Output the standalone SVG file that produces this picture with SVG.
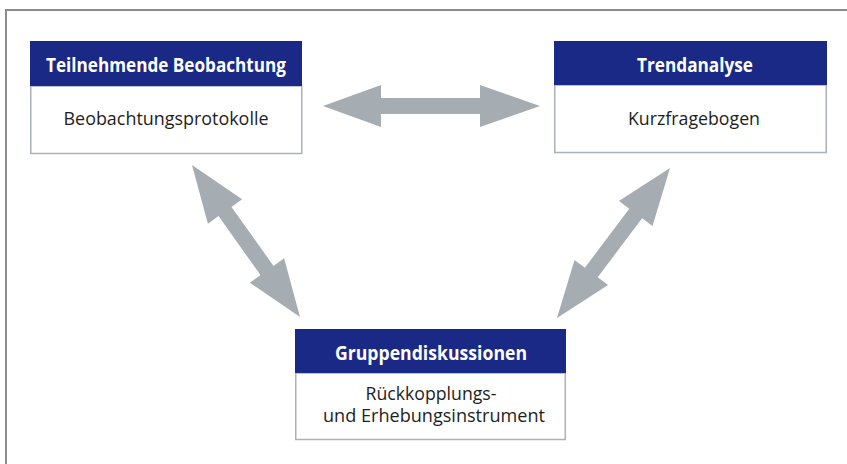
<svg xmlns="http://www.w3.org/2000/svg" width="847" height="464" viewBox="0 0 847 464">
  <style>
    .frame { stroke: #8c8c8c; stroke-width: 2; fill: none; }
    .head { fill: #1a2985; }
    .body { fill: #ffffff; stroke: #aab1b8; stroke-width: 1.5; }
    .title { font-family: "Open Sans", "Noto Sans", sans-serif; font-weight: bold; font-size: 19px; fill: #ffffff; text-anchor: middle; }
    .label { font-family: "Open Sans", "Noto Sans", sans-serif; font-size: 18px; fill: #1e1e1e; text-anchor: middle; }
    .arrow { fill: #a5adb3; }
  </style>

  <!-- page frame: top and left rule only -->
  <path class="frame" d="M6,464 V10 H847"/>

  <g id="connectors">
    <polygon class="arrow" points="323,106 381,85 381,98 480,98 480,85 540,106 480,127 480,114 381,114 381,127"/>
    <polygon class="arrow" points="192,165 207.9,223.7 218.5,216.1 260.5,275.1 249.9,282.7 300,317 284.1,258.3 273.5,265.9 231.5,206.9 242.1,199.3"/>
    <polygon class="arrow" points="670,168 618.9,200.9 629.3,208.7 584.9,267.7 574.5,259.9 557,318 608.1,285.1 597.7,277.3 642.1,218.3 652.5,226.1"/>
  </g>

  <g id="beobachtung">
    <rect class="body" x="30.75" y="86" width="271" height="67.5"/>
    <rect class="head" x="30" y="41" width="272" height="45"/>
    <text class="title" x="166" y="72" textLength="240" lengthAdjust="spacingAndGlyphs">Teilnehmende Beobachtung</text>
    <text class="label" x="166" y="125" textLength="205" lengthAdjust="spacingAndGlyphs">Beobachtungsprotokolle</text>
  </g>

  <g id="trendanalyse">
    <rect class="body" x="554.75" y="85" width="271.5" height="67.5"/>
    <rect class="head" x="554" y="41" width="273" height="44"/>
    <text class="title" x="695" y="72" textLength="116" lengthAdjust="spacingAndGlyphs">Trendanalyse</text>
    <text class="label" x="694" y="125" textLength="132" lengthAdjust="spacingAndGlyphs">Kurzfragebogen</text>
  </g>

  <g id="gruppendiskussionen">
    <rect class="body" x="295.75" y="373" width="269.5" height="66.5"/>
    <rect class="head" x="295" y="329" width="271" height="44"/>
    <text class="title" x="431" y="360" textLength="192" lengthAdjust="spacingAndGlyphs">Gruppendiskussionen</text>
    <text class="label" x="431" y="400" textLength="131" lengthAdjust="spacingAndGlyphs">Rückkopplungs-</text>
    <text class="label" x="434" y="422" textLength="222" lengthAdjust="spacingAndGlyphs">und Erhebungsinstrument</text>
  </g>
</svg>
